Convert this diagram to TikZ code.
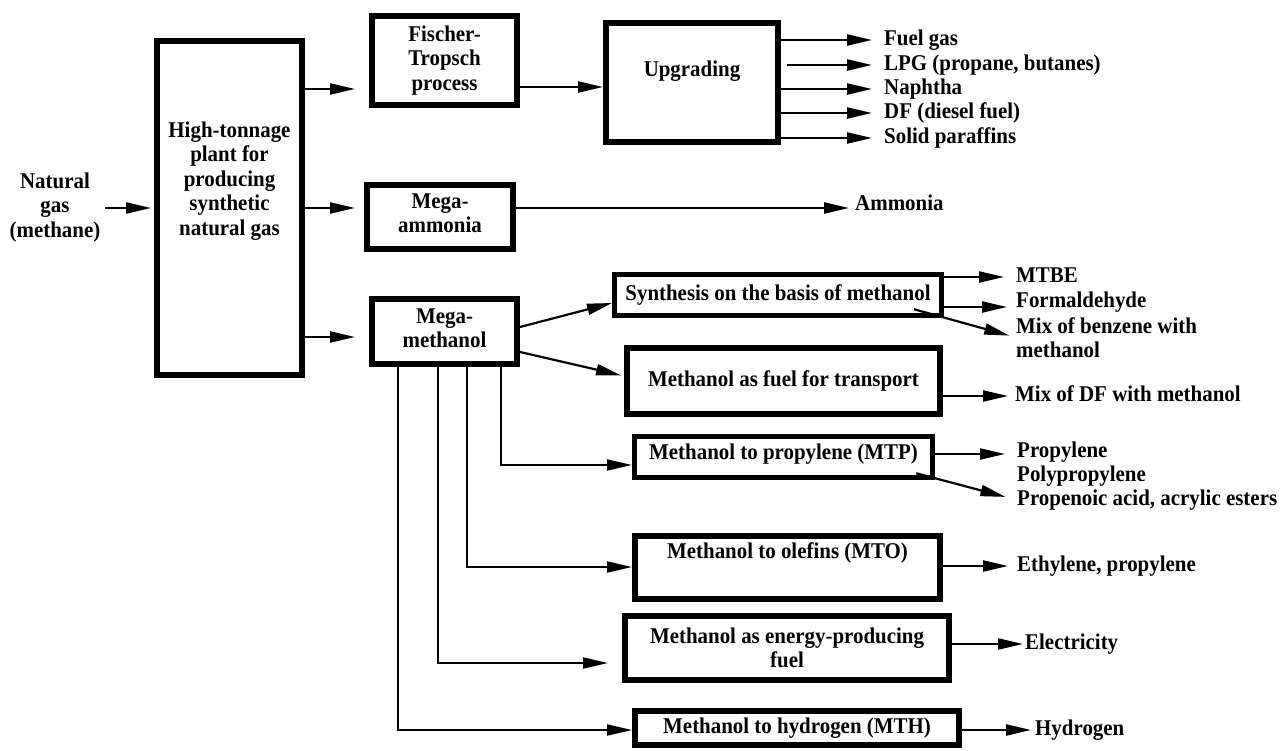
\documentclass[tikz,border=0pt]{standalone}
\usepackage{fontspec}
\setmainfont{Liberation Serif}[FakeStretch=0.93]
\usetikzlibrary{arrows.meta}
\begin{document}
\begin{tikzpicture}[x=1pt,y=-1pt,
  every node/.style={font=\bfseries\fontsize{22.5}{24.5}\selectfont, inner sep=0pt, align=center},
  box/.style={draw, line width=6pt},
  thinbox/.style={draw, line width=5pt},
  flow/.style={line width=2.2pt, -{Triangle[length=25pt,width=11pt]}},
  feed/.style={line width=1.8pt, -{Triangle[length=25pt,width=11pt]}},
  outtxt/.style={anchor=west, align=left, text height=15pt, text depth=4pt}]
\useasboundingbox (0,0) rectangle (1284,751);

% feed and main plant
\node (ng) at (55,207.5) {Natural\\gas\\(methane)};
\node[box, minimum width=145pt, minimum height=334pt] (ht) at (229.5,208) {};
\node (htt) at (229.5,181) {High-tonnage\\plant for\\producing\\synthetic\\natural gas};

% first-level processes
\node[box, minimum width=145pt, minimum height=89pt] (ft) at (444.5,60.5) {Fischer-\\Tropsch\\process};
\node[box, minimum width=146pt, minimum height=64pt] (ma) at (440,217) {};
\node (mat) at (440,213) {Mega-\\ammonia};
\node[box, minimum width=145pt, minimum height=65pt] (mm) at (444.5,331.5) {};
\node (mmt) at (444.5,328) {Mega-\\methanol};
\node[box, minimum width=172pt, minimum height=119pt] (up) at (692,82.5) {};
\node (upt) at (692,71) {Upgrading};

% methanol routes
\node[thinbox, minimum width=327pt, minimum height=41pt] (sy) at (778,295) {Synthesis on the basis of methanol};
\node[box, minimum width=313pt, minimum height=66pt] (tr) at (783.5,381) {Methanol as fuel for transport};
\node[thinbox, minimum width=298pt, minimum height=41pt] (mtp) at (783.5,457) {};
\node (mtpt) at (783.5,454) {Methanol to propylene (MTP)};
\node[box, minimum width=305pt, minimum height=63pt] (mto) at (787.5,567.5) {};
\node (mtot) at (787.5,553) {Methanol to olefins (MTO)};
\node[box, minimum width=324pt, minimum height=64pt] (en) at (787,648) {Methanol as energy-producing\\fuel};
\node[box, minimum width=324pt, minimum height=34pt] (mth) at (797,728) {Methanol to hydrogen (MTH)};

% products
\node[outtxt] (o1) at (884,40) {Fuel gas};
\node[outtxt] (o2) at (884,65) {LPG (propane, butanes)};
\node[outtxt] (o3) at (884,89) {Naphtha};
\node[outtxt] (o4) at (884,113) {DF (diesel fuel)};
\node[outtxt] (o5) at (884,138) {Solid paraffins};
\node[outtxt] (amm) at (855,205) {Ammonia};
\node[outtxt] (mtbe) at (1016,277) {MTBE};
\node[outtxt] (form) at (1016,302) {Formaldehyde};
\node[anchor=west, align=left] (mixb) at (1016,337.5) {Mix of benzene with\\methanol};
\node[outtxt] (mixdf) at (1015,396) {Mix of DF with methanol};
\node[outtxt] (prop) at (1017,452) {Propylene};
\node[outtxt] (polyp) at (1017,476) {Polypropylene};
\node[outtxt] (acry) at (1017,500) {Propenoic acid, acrylic esters};
\node[outtxt] (eth) at (1017,566) {Ethylene, propylene};
\node[outtxt] (elec) at (1025,644) {Electricity};
\node[outtxt] (hyd) at (1035,730) {Hydrogen};

% main flows
\draw[flow, shorten <=4.5pt, shorten >=3pt] (ng.east |- 0,208) -- (ht.west |- 0,208);
\draw[flow, shorten >=14pt] (ht.east |- 0,89) -- (ft.west |- 0,89);
\draw[flow, shorten >=9pt] (ht.east |- 0,208) -- (ma.west |- 0,208);
\draw[flow, shorten >=14pt] (ht.east |- 0,337) -- (mm.west |- 0,337);
\draw[flow] (ft.east |- 0,87) -- (up.west |- 0,87);

% upgrading products
\draw[flow, shorten >=12pt] (up.east |- o1.west) -- (o1.west);
\draw[flow, shorten <=6pt, shorten >=12pt] (up.east |- o2.west) -- (o2.west);
\draw[flow, shorten >=12pt] (up.east |- o3.west) -- (o3.west);
\draw[flow, shorten >=12pt] (up.east |- o4.west) -- (o4.west);
\draw[flow, shorten >=12pt] (up.east |- o5.west) -- (o5.west);
\draw[flow, shorten >=6pt] (ma.east |- 0,208) -- (amm.west |- 0,208);

% methanol distribution
\draw[flow] (mm.east |- 0,327) -- (sy.west |- 0,303);
\draw[flow, shorten >=3pt] (mm.east |- 0,352) -- (tr.west |- 0,376);
\draw[feed] (mm.south -| 501,0) |- (mtp.west |- 0,465);
\draw[feed] (mm.south -| 467,0) |- (mto.west |- 0,567);
\draw[feed, shorten >=14pt] (mm.south -| 438,0) |- (en.west |- 0,663);
\draw[feed] (mm.south -| 398,0) |- (mth.west |- 0,730);

% route products
\draw[flow, shorten >=12pt] (sy.east |- 0,277) -- (mtbe.west |- 0,277);
\draw[flow, shorten >=9pt] (sy.east |- 0,307) -- (form.west |- 0,307);
\draw[flow, shorten >=7pt] ([shift={(-30,-8.75)}]sy.south east) -- (mixb.west);
\draw[flow, shorten >=7pt] (tr.east |- mixdf.west) -- (mixdf.west);
\draw[flow, shorten >=12pt] (mtp.east |- 0,454) -- (prop.west |- 0,454);
\draw[flow, shorten >=12pt] ([shift={(-18.75,-6.75)}]mtp.south east) -- (acry.west);
\draw[flow, shorten >=9pt] (mto.east |- eth.west) -- (eth.west);
\draw[flow, shorten >=2pt] (en.east |- elec.west) -- (elec.west);
\draw[flow, shorten >=4pt] (mth.east |- hyd.west) -- (hyd.west);
\end{tikzpicture}
\end{document}
